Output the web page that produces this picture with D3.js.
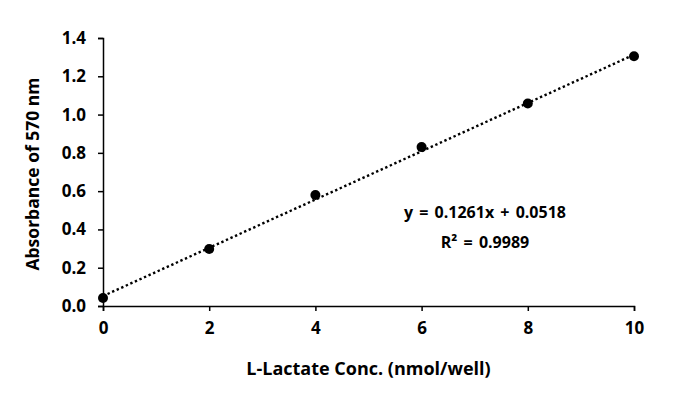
<!DOCTYPE html>
<html>
<head>
<meta charset="utf-8">
<script src="https://cdn.jsdelivr.net/npm/d3@7"></script>
<style>
  body { margin: 0; background: #fff; }
  text { font-family: "Open Sans", "Noto Sans", sans-serif; font-weight: bold; fill: #000; }
</style>
</head>
<body>
<div id="chart"></div>
<script>
// data
var conc = [0, 2, 4, 6, 8, 10];
var absorb = [0.042, 0.298, 0.58, 0.83, 1.058, 1.305];
var xTicks = [0, 2, 4, 6, 8, 10];
var yTicks = [0, 0.2, 0.4, 0.6, 0.8, 1.0, 1.2, 1.4];
var slope = 0.1261, intercept = 0.0518;

var width = 680, height = 395;
var margin = { left: 103, right: 46, top: 38, bottom: 89 };

var svg = d3.select('#chart').append('svg')
    .attr('width', width)
    .attr('height', height);

var x = d3.scaleLinear().domain([0, 10]).range([margin.left, width - margin.right]);
var y = d3.scaleLinear().domain([0, 1.4]).range([height - margin.bottom, margin.top]);

// x axis
var xAxis = svg.append('g')
    .attr('transform', 'translate(0,' + y(0) + ')')
    .call(d3.axisBottom(x).tickValues(xTicks).tickFormat(d3.format('d')).tickSizeOuter(0).tickSize(5).tickPadding(11));
xAxis.select('.domain').attr('stroke', '#000').attr('stroke-width', 1.5);
xAxis.selectAll('.tick line').attr('stroke', '#000').attr('stroke-width', 1.5);
xAxis.selectAll('text').style('font-size', '17px').attr('font-family', null);

// y axis
var yAxis = svg.append('g')
    .attr('transform', 'translate(' + x(0) + ',0)')
    .call(d3.axisLeft(y).tickValues(yTicks).tickFormat(d3.format('.1f')).tickSizeOuter(0).tickSize(5).tickPadding(12));
yAxis.select('.domain').attr('stroke', '#000').attr('stroke-width', 1.5);
yAxis.selectAll('.tick line').attr('stroke', '#000').attr('stroke-width', 1.5);
yAxis.selectAll('text').style('font-size', '17px').attr('font-family', null);

// trendline
svg.append('line')
    .attr('x1', x(0)).attr('y1', y(intercept))
    .attr('x2', x(10)).attr('y2', y(slope * 10 + intercept))
    .attr('stroke', '#000')
    .attr('stroke-width', 2.4)
    .attr('stroke-dasharray', '2.4,2.6');

// points
svg.selectAll('circle.pt')
    .data(conc)
    .enter()
    .append('circle')
    .attr('class', 'pt')
    .attr('cx', function (d) { return x(d); })
    .attr('cy', function (d, i) { return y(absorb[i]); })
    .attr('r', 5)
    .attr('fill', '#000');

// equation
svg.append('text')
    .attr('x', 485).attr('y', 218)
    .attr('text-anchor', 'middle')
    .style('font-size', '16px')
    .style('word-spacing', '2px')
    .text('y = 0.1261x + 0.0518');
svg.append('text')
    .attr('x', 485).attr('y', 248)
    .attr('text-anchor', 'middle')
    .style('font-size', '16px')
    .style('word-spacing', '2px')
    .text('R² = 0.9989');

// axis titles
svg.append('text')
    .attr('x', (x(0) + x(10)) / 2).attr('y', 375)
    .attr('text-anchor', 'middle')
    .style('font-size', '18px')
    .text('L-Lactate Conc. (nmol/well)');
svg.append('text')
    .attr('transform', 'translate(39,' + ((y(0) + y(1.4)) / 2 + 2) + ') rotate(-90)')
    .attr('text-anchor', 'middle')
    .style('font-size', '17.5px')
    .text('Absorbance of 570 nm');
</script>
</body>
</html>
